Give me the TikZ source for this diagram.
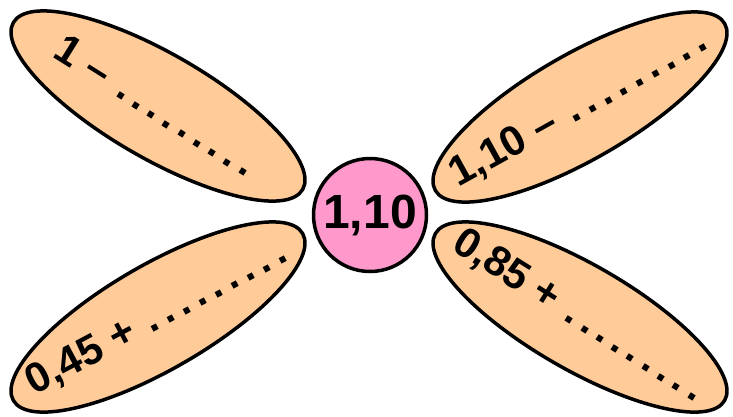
\documentclass[tikz,border=0pt]{standalone}
\usepackage{fontspec}
\setmainfont{Liberation Sans}
\usetikzlibrary{shapes.geometric}
\definecolor{petalfill}{RGB}{255, 204, 153}
\definecolor{corefill}{RGB}{255, 153, 204}
\newcommand{\blanks}{\hbox to 162pt{\leaders\hbox to 18pt{\hss.\hss}\hfill}}
\tikzset{
    petal/.style={ellipse, draw=black, line width=3.5pt, fill=petalfill,
                minimum width=334pt, minimum height=105pt, inner sep=0pt, rotate=#1},
    petaltext/.style={inner sep=0pt, font=\fontsize{42}{42}\selectfont\bfseries, rotate=#1},
    core/.style={circle, draw=black, line width=3.5pt, fill=corefill,
                minimum size=113pt, inner sep=0pt,
                font=\fontsize{48}{48}\selectfont\bfseries},
}

\begin{document}
\begin{tikzpicture}[x=1pt, y=-1pt]

    \useasboundingbox (0,0) rectangle (733,416);

    \node[petal=-30] (tl) at (158, 106) {};
    \node[petal=30]  (tr) at (580, 107) {};
    \node[petal=30]  (bl) at (158, 317) {};
    \node[petal=-30] (br) at (580, 317) {};

    \node[petaltext=-32] (tltext) at (tl) {1 -- \blanks};
    \node[petaltext=29]  (trtext) at (tr) {1,10 -- \blanks};
    \node[petaltext=28]  (bltext) at (bl) {0,45 + \blanks};
    \node[petaltext=-32] (brtext) at (br) {0,85 + \blanks};

    \node[core] (mid) at (370, 215) {1,10};

\end{tikzpicture}
\end{document}
